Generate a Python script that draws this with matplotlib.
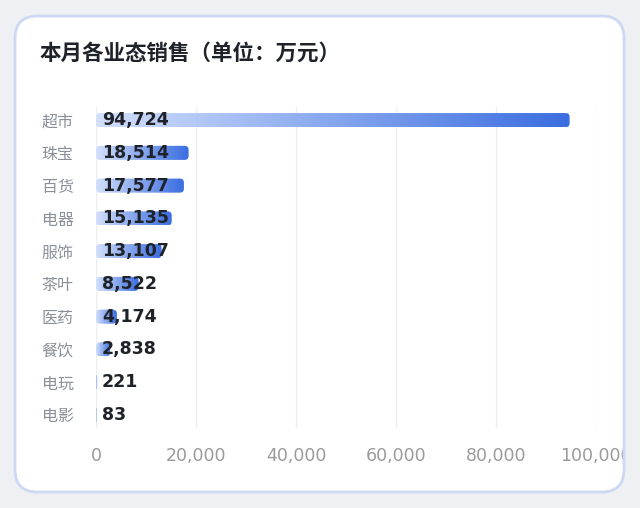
import numpy as np
import matplotlib.pyplot as plt
from matplotlib.patches import FancyBboxPatch, Rectangle
from matplotlib.colors import LinearSegmentedColormap

# data
categories = ['超市', '珠宝', '百货', '电器', '服饰', '茶叶', '医药', '餐饮', '电玩', '电影']
sales = [94724, 18514, 17577, 15135, 13107, 8522, 4174, 2838, 221, 83]
x_ticks = [0, 20000, 40000, 60000, 80000, 100000]
title = '本月各业态销售（单位：万元）'

plt.rcParams['font.family'] = ['Noto Sans CJK SC', 'DejaVu Sans']

W, H = 640, 508
bg = '#eef0f4'
fig = plt.figure(figsize=(W / 100, H / 100), dpi=100)
fig.patch.set_facecolor(bg)

# white card with rounded corners
card_kw = dict(boxstyle='round,pad=0,rounding_size=0.035', mutation_aspect=W / H,
               transform=fig.transFigure)
card = FancyBboxPatch((15 / W, 16 / H), 609 / W, 476 / H, facecolor='white',
                      edgecolor='none', zorder=-5, **card_kw)
fig.patches.append(card)
# the card edge cuts off the last tick label, so cover the outside and redraw the border
fig.patches.append(Rectangle((624 / W, 0), 16 / W, 1, transform=fig.transFigure,
                             facecolor=bg, edgecolor='none', zorder=10))
fig.patches.append(FancyBboxPatch((15 / W, 16 / H), 609 / W, 476 / H, facecolor='none',
                                  edgecolor='#cdd8f2', linewidth=2, zorder=11, **card_kw))

fig.text(40 / W, 1 - 53 / H, title, fontsize=15.5, color='#1f2329',
         weight='demibold', va='center', ha='left')

ax = fig.add_axes([96 / W, 1 - 428 / H, 500 / W, 321 / H], zorder=1)
ax.set_facecolor('none')

for s in ax.spines.values():
    s.set_visible(False)
ax.grid(axis='x', color='#eceef2', linewidth=1)
ax.set_axisbelow(True)
ax.set_xticks(x_ticks)
ax.set_xticklabels([f'{v:,}' for v in x_ticks])
ax.set_yticks(range(len(categories)))
ax.set_yticklabels(categories)
ax.tick_params(axis='x', length=0, pad=14, labelsize=12.5, labelcolor='#9a9a9a')
ax.tick_params(axis='y', length=0, pad=16, labelsize=11.5, labelcolor='#8a8f99')
for lab in ax.get_xticklabels():
    lab.set_fontfamily(['DejaVu Sans'])

cmap = LinearSegmentedColormap.from_list('bar', ['#d3e0fb', '#3a6de0'])
grad = np.linspace(0, 1, 256).reshape(1, -1)

bars = ax.barh(range(len(categories)), sales, height=0.43, alpha=0)
px_x = 100000 / 500
px_y = (len(categories) - 0.2) / 321
for rect, v in zip(bars, sales):
    x0, y0 = rect.get_x(), rect.get_y()
    w, h = rect.get_width(), rect.get_height()
    r = min(4 * px_x, w / 2)
    patch = FancyBboxPatch((x0, y0), w, h,
                           boxstyle=f'round,pad=0,rounding_size={r}',
                           mutation_aspect=px_y / px_x,
                           facecolor='none', edgecolor='none')
    ax.add_patch(patch)
    im = ax.imshow(grad, cmap=cmap, aspect='auto',
                   extent=(x0, x0 + max(w, px_x), y0 + h, y0), zorder=2)
    im.set_clip_path(patch)
    ax.text(1200, y0 + h / 2, f'{v:,}', fontsize=12.5, weight='bold',
            color='#1f2329', va='center', ha='left', zorder=3,
            family=['DejaVu Sans'])

ax.set_xlim(0, 100000)
ax.set_ylim(len(categories) - 0.6, -0.4)

fig.savefig('out.png', dpi=100, facecolor=fig.get_facecolor())
